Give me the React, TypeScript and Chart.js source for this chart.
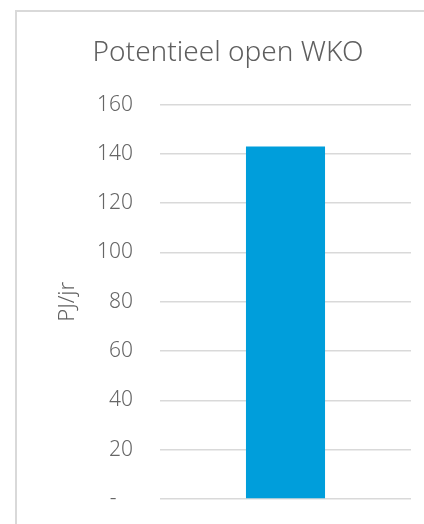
import React, { useEffect, useRef } from "react";
import { Chart, registerables } from "chart.js";

Chart.register(...registerables);

const categories = ["Potentieel"];
const values = [143];
const tickMin = 0;
const tickMax = 160;
const tickStep = 20;
const chartTitle = "Potentieel open WKO";
const yTitle = "PJ/jr";

export default function App() {
  const ref = useRef<HTMLCanvasElement | null>(null);

  useEffect(() => {
    document.body.style.margin = "0";
    const ctx = ref.current!;
    const chart = new Chart(ctx, {
      type: "bar",
      data: {
        labels: categories,
        datasets: [
          {
            data: values,
            backgroundColor: "#009EDB",
            borderWidth: 0,
            categoryPercentage: 1,
            barPercentage: 0.315,
          },
        ],
      },
      options: {
        responsive: false,
        animation: false,
        layout: { padding: { top: 0, left: 45, right: 13, bottom: 25 } },
        plugins: {
          legend: { display: false },
          tooltip: { enabled: false },
          title: {
            display: true,
            text: chartTitle,
            color: "#5f5f5f",
            font: { family: "'Noto Sans', sans-serif", size: 28, weight: "300", lineHeight: 1.2 },
            padding: { top: 36, bottom: 35 },
          },
        },
        scales: {
          x: { display: false },
          y: {
            min: tickMin,
            max: tickMax,
            afterFit: (scale: any) => {
              scale.width = 115;
              scale.paddingTop = 0;
              scale.paddingBottom = 0;
            },
            border: { display: false },
            grid: { color: "#d9d9d9", lineWidth: 1.5, drawTicks: false },
            ticks: {
              stepSize: tickStep,
              padding: 27,
              color: "#666666",
              font: { family: "'Noto Sans', sans-serif", size: 21, weight: "300" },
              callback: (v: any) => (Number(v) === 0 ? "-   " : String(v)),
            },
            title: {
              display: true,
              text: yTitle,
              color: "#5f5f5f",
              font: { family: "'Noto Sans', sans-serif", size: 22, weight: "300" },
              padding: { top: 10, bottom: 0 },
            },
          },
        },
      },
    });
    return () => chart.destroy();
  }, []);

  return (
    <div style={{ position: "fixed", left: 0, top: 0, width: 424, height: 524, overflow: "hidden", background: "#fff" }}>
      <div
        style={{
          position: "absolute",
          left: 15,
          top: 10,
          width: 500,
          height: 600,
          border: "2px solid #d9d9d9",
          boxSizing: "border-box",
        }}
      />
      <canvas ref={ref} width={424} height={524} style={{ position: "absolute", left: 0, top: 0 }} />
    </div>
  );
}
